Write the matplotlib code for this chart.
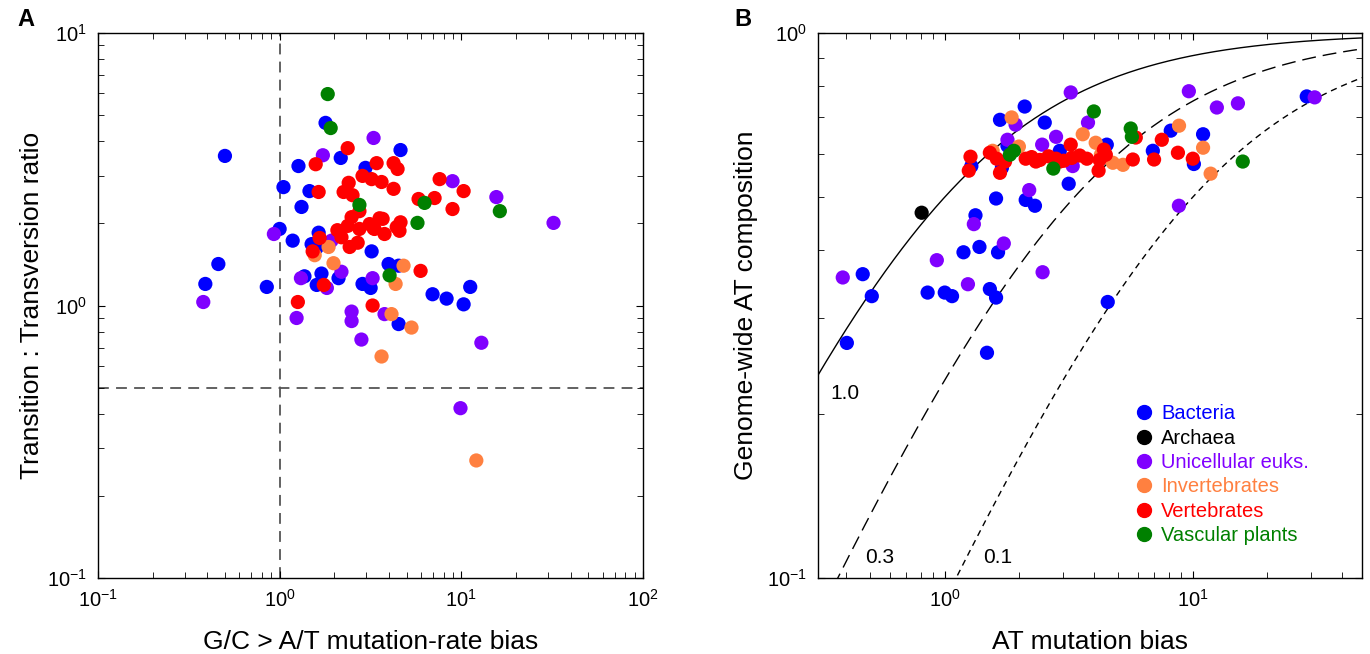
import numpy as np
import matplotlib
matplotlib.use("Agg")
import matplotlib.pyplot as plt
from matplotlib.lines import Line2D
from matplotlib.ticker import NullFormatter

plt.rcParams['font.family'] = ['Liberation Sans', 'DejaVu Sans']
plt.rcParams['mathtext.fontset'] = 'custom'
plt.rcParams['mathtext.rm'] = 'Liberation Sans'
plt.rcParams['mathtext.it'] = 'Liberation Sans:italic'
plt.rcParams['mathtext.bf'] = 'Liberation Sans:bold'

# ---- data, panel A: (mutation bias, Ts:Tv ratio) ----
a_bact_x = [0.50, 0.46, 0.39, 0.85, 1.79, 2.17, 1.27, 1.05, 1.46, 1.32, 2.97, 1.00, 1.18, 1.64,
            1.50, 1.60, 3.21, 1.37, 1.70, 1.60, 2.11, 2.86, 3.17, 4.63, 3.98, 4.52, 6.95, 8.30,
            10.3, 11.2, 4.52]
a_bact_y = [3.54, 1.42, 1.20, 1.17, 4.68, 3.48, 3.25, 2.72, 2.63, 2.30, 3.20, 1.91, 1.73, 1.85,
            1.68, 1.63, 1.58, 1.28, 1.31, 1.19, 1.26, 1.20, 1.16, 3.72, 1.42, 1.40, 1.10, 1.06,
            1.01, 1.17, 0.855]
a_uni_x = [0.38, 1.73, 3.29, 0.93, 1.93, 1.31, 1.82, 2.19, 3.25, 1.24, 2.49, 2.49, 2.82, 8.95,
           15.6, 32.2, 3.78, 12.9, 9.9]
a_uni_y = [1.03, 3.56, 4.12, 1.83, 1.73, 1.26, 1.16, 1.33, 1.26, 0.90, 0.95, 0.877, 0.75, 2.86,
           2.50, 2.01, 0.93, 0.73, 0.42]
a_inv_x = [1.86, 1.56, 1.98, 4.81, 4.35, 4.13, 5.32, 3.64, 12.1]
a_inv_y = [1.64, 1.53, 1.43, 1.40, 1.20, 0.93, 0.83, 0.65, 0.27]
a_vert_x = [1.58, 2.37, 3.42, 2.86, 3.21, 2.40, 2.25, 2.52, 1.64, 2.75, 2.49, 2.08, 2.37, 2.75,
            3.13, 3.29, 2.19, 2.43, 2.69, 3.55, 1.66, 1.52, 1.75, 1.26, 3.25, 4.24, 4.46, 3.64,
            4.24, 7.60, 10.3, 5.82, 7.13, 8.95, 3.69, 4.63, 4.41, 3.78, 5.97, 4.57, 3.33]
a_vert_y = [3.30, 3.78, 3.33, 2.99, 2.91, 2.82, 2.61, 2.54, 2.61, 2.22, 2.11, 1.89, 1.96, 1.91,
            1.99, 1.92, 1.78, 1.64, 1.70, 2.09, 1.77, 1.58, 1.19, 1.03, 1.00, 3.33, 3.17, 2.84,
            2.68, 2.91, 2.63, 2.46, 2.48, 2.26, 2.08, 2.02, 1.94, 1.83, 1.34, 1.88, 1.91]
a_plant_x = [1.84, 1.91, 2.75, 6.28, 16.3, 5.74, 4.03]
a_plant_y = [5.97, 4.48, 2.34, 2.38, 2.22, 2.01, 1.29]

# ---- data, panel B: (AT mutation bias, genome AT composition) ----
b_bact_x = [2.10, 1.67, 1.79, 1.28, 1.70, 1.61, 2.12, 1.33, 1.38, 1.19, 1.64, 0.467, 0.508,
            0.853, 1.00, 1.07, 1.52, 1.61, 0.403, 1.48, 2.53, 4.50, 2.91, 3.16, 2.31, 8.15,
            6.90, 11.0, 10.1, 28.8, 4.54]
b_bact_y = [0.733, 0.693, 0.621, 0.570, 0.566, 0.497, 0.494, 0.463, 0.405, 0.396, 0.396, 0.361,
            0.329, 0.334, 0.334, 0.329, 0.339, 0.327, 0.270, 0.259, 0.685, 0.624, 0.608, 0.529,
            0.482, 0.662, 0.608, 0.652, 0.575, 0.765, 0.321]
b_arch_x = [0.807]
b_arch_y = [0.468]
b_uni_x = [1.93, 1.79, 2.19, 1.31, 1.73, 0.929, 0.388, 1.24, 3.22, 3.78, 2.81, 2.47, 3.28,
           9.64, 12.5, 15.2, 31.0, 8.79, 2.48]
b_uni_y = [0.679, 0.637, 0.515, 0.446, 0.411, 0.383, 0.356, 0.346, 0.778, 0.685, 0.645, 0.624,
           0.570, 0.782, 0.730, 0.743, 0.762, 0.482, 0.364]
b_inv_x = [1.86, 1.99, 1.56, 3.60, 4.06, 4.76, 5.23, 8.80, 11.0, 11.8, 4.26]
b_inv_y = [0.700, 0.619, 0.608, 0.652, 0.629, 0.578, 0.573, 0.676, 0.616, 0.552, 0.598]
b_vert_x = [1.52, 1.62, 1.75, 2.12, 1.27, 1.25, 1.67, 2.24, 2.42, 2.62, 2.81, 3.02, 3.25, 3.50,
            3.74, 2.33, 2.91, 3.22, 4.17, 4.38, 4.21, 4.46, 5.73, 5.89, 7.50, 6.98, 8.71, 10.0]
b_vert_y = [0.603, 0.588, 0.581, 0.588, 0.593, 0.559, 0.554, 0.592, 0.585, 0.594, 0.588, 0.583,
            0.590, 0.596, 0.588, 0.581, 0.581, 0.624, 0.559, 0.611, 0.585, 0.598, 0.586, 0.643,
            0.637, 0.586, 0.603, 0.588]
b_plant_x = [1.83, 1.90, 3.99, 2.74, 5.62, 5.68, 15.9]
b_plant_y = [0.598, 0.608, 0.718, 0.564, 0.668, 0.645, 0.581]

groups = ['Bacteria', 'Archaea', 'Unicellular euks.', 'Invertebrates', 'Vertebrates', 'Vascular plants']
colors = ['#0000ff', '#000000', '#8000ff', '#ff8040', '#ff0000', '#008000']
curve_ratios = [1.0, 0.3, 0.1]
curve_labels = ['1.0', '0.3', '0.1']

fig = plt.figure(figsize=(13.7, 6.54), dpi=100)
axA = fig.add_axes([0.0715, 0.1162, 0.3978, 0.8333])
axB = fig.add_axes([0.597, 0.1162, 0.397, 0.8333])

ms = 105

def style(ax):
    ax.set_xscale('log')
    ax.set_yscale('log')
    ax.tick_params(which='both', direction='in', top=True, right=True, labelsize=14.5, pad=8)
    ax.tick_params(which='major', length=5)
    ax.tick_params(which='minor', length=4)
    for s in ax.spines.values():
        s.set_linewidth(1.0)

# Panel A
style(axA)
axA.axvline(1.0, color='#555555', lw=1.3, dashes=(6, 4), zorder=1)
axA.axhline(0.5, color='#555555', lw=1.3, dashes=(6, 4), zorder=1)
a_sets = [(a_bact_x, a_bact_y), ([], []), (a_uni_x, a_uni_y), (a_inv_x, a_inv_y),
          (a_vert_x, a_vert_y), (a_plant_x, a_plant_y)]
for (xs, ys), c in zip(a_sets, colors):
    if xs:
        axA.scatter(xs, ys, s=ms, color=c, edgecolors='none', zorder=3)
axA.set_xlim(0.1, 100)
axA.set_ylim(0.1, 10)
axA.set_xlabel('G/C > A/T mutation-rate bias', fontsize=19, labelpad=14)
axA.set_ylabel('Transition : Transversion ratio', fontsize=19, labelpad=2)

# Panel B
style(axB)
axB.xaxis.set_minor_formatter(NullFormatter())
axB.yaxis.set_minor_formatter(NullFormatter())
xb = np.logspace(np.log10(0.3), np.log10(50), 400)
for r, dash in zip(curve_ratios, [None, (10, 5), (4.5, 3.5)]):
    yb = r * xb / (r * xb + 1)
    if dash is None:
        axB.plot(xb, yb, color='black', lw=1.0, zorder=2)
    else:
        axB.plot(xb, yb, color='black', lw=1.0, dashes=dash, zorder=2)
b_sets = [(b_bact_x, b_bact_y), (b_arch_x, b_arch_y), (b_uni_x, b_uni_y), (b_inv_x, b_inv_y),
          (b_vert_x, b_vert_y), (b_plant_x, b_plant_y)]
for (xs, ys), c in zip(b_sets, colors):
    axB.scatter(xs, ys, s=ms, color=c, edgecolors='none', zorder=3)
axB.set_xlim(0.308, 48)
axB.set_ylim(0.1, 1.0)
axB.set_xlabel('AT mutation bias', fontsize=19, labelpad=14)
axB.set_ylabel('Genome-wide AT composition', fontsize=19, labelpad=6)
axB.text(0.395, 0.218, curve_labels[0], fontsize=15, ha='center', va='center')
axB.text(0.547, 0.109, curve_labels[1], fontsize=15, ha='center', va='center')
axB.text(1.64, 0.109, curve_labels[2], fontsize=15, ha='center', va='center')

handles = [Line2D([], [], marker='o', ls='none', color=c, markersize=10) for c in colors]
leg = axB.legend(handles, groups, loc='upper left', bbox_to_anchor=(0.585, 0.319),
                 frameon=False, fontsize=14.5, handlelength=0.8, handletextpad=0.45,
                 labelspacing=0.27, borderaxespad=0, borderpad=0)
for t, c in zip(leg.get_texts(), colors):
    t.set_color(c)

fig.text(0.0124, 0.97, 'A', fontsize=17, fontweight='bold', ha='left', va='center')
fig.text(0.536, 0.97, 'B', fontsize=17, fontweight='bold', ha='left', va='center')

fig.savefig('out.png', dpi=100)
